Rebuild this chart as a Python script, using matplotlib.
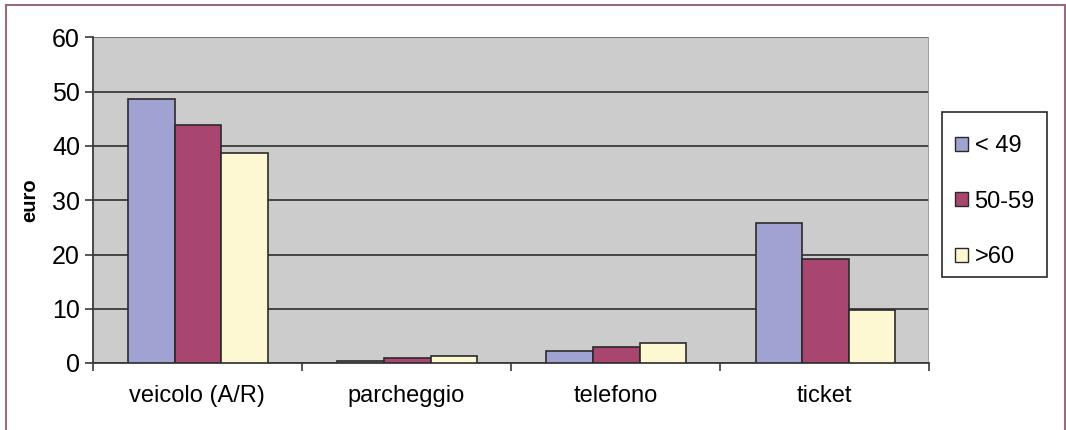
import matplotlib
matplotlib.use("Agg")
import matplotlib.pyplot as plt
import numpy as np
from matplotlib.lines import Line2D
from matplotlib.patches import Rectangle

plt.rcParams['font.family'] = ['Liberation Sans', 'DejaVu Sans']

categories = ["veicolo (A/R)", "parcheggio", "telefono", "ticket"]
series_names = ["< 49", "50-59", ">60"]
vals_lt49 = [48.7, 0.3, 2.3, 25.8]
vals_50_59 = [43.9, 1.0, 3.0, 19.1]
vals_gt60 = [38.8, 1.3, 3.7, 9.8]
colors = ["#a0a3d2", "#a8466f", "#fdf8d2"]
y_ticks = [0, 10, 20, 30, 40, 50, 60]

W, H = 1066, 430
fig = plt.figure(figsize=(W / 100, H / 100), dpi=100)
ax = fig.add_axes([92.5 / W, 1 - 363 / H, (929 - 92.5) / W, (363 - 37.5) / H])
ax.set_facecolor("#cccccc")

x = np.arange(len(categories))
bw = 0.223
for i, (vals, c, n) in enumerate(zip([vals_lt49, vals_50_59, vals_gt60], colors, series_names)):
    ax.bar(x + (i - 1) * bw + 0.005, vals, width=bw, color=c, edgecolor="#2a2a2a",
           linewidth=1.2, label=n, zorder=3)

ax.set_xlim(-0.5, len(categories) - 0.5)
ax.set_ylim(0, 60)
ax.set_yticks(y_ticks)
ax.yaxis.grid(True, color="#3a3a3a", linewidth=1.3, zorder=1)
ax.set_axisbelow(True)
ax.set_xticks(x)
ax.set_xticklabels(categories, fontsize=17)
ax.set_xticks(np.arange(len(categories) + 1) - 0.5, minor=True)
ax.tick_params(axis="x", which="major", length=0, pad=16)
ax.tick_params(axis="x", which="minor", length=6, width=1.2, color="#3a3a3a", direction="out")
ax.tick_params(axis="y", labelsize=18, length=6, width=1.2, color="#3a3a3a", pad=3)
for s in ["top", "right"]:
    ax.spines[s].set_visible(False)
ax.spines["left"].set_color("#3a3a3a")
ax.spines["bottom"].set_color("#3a3a3a")
ax.spines["left"].set_linewidth(1.3)
ax.spines["bottom"].set_linewidth(1.3)
ax.set_ylabel("euro", fontsize=14.5, fontweight="bold", labelpad=9)

# Gray top / right edges of plot area
ax.axhline(60, color="#777777", linewidth=1.5, zorder=2)
ax.axvline(len(categories) - 0.5, color="#999999", linewidth=1.2, zorder=2)

# Legend (frame drawn separately)
leg = fig.legend(loc="upper left", bbox_to_anchor=(942 / W, 1 - 122 / H),
                 fontsize=17, frameon=False,
                 handlelength=0.53, handleheight=0.53, handletextpad=0.3,
                 labelspacing=1.42, borderpad=0.55, borderaxespad=0)
for p in leg.get_patches():
    p.set_linewidth(1.0)
fig.add_artist(Rectangle((942 / W, 1 - 277 / H), (1047 - 942) / W, (277 - 112) / H,
                         transform=fig.transFigure, fill=False, edgecolor="#2a2a2a", lw=1.2))

# Outer frame
bc = "#9a6a7e"
fig.add_artist(Line2D([5.5 / W, 5.5 / W], [0, 1 - 5 / H], transform=fig.transFigure, color=bc, lw=1.5))
fig.add_artist(Line2D([5.5 / W, 1064.5 / W], [1 - 5 / H, 1 - 5 / H], transform=fig.transFigure, color=bc, lw=1.5))
fig.add_artist(Line2D([1064.5 / W, 1064.5 / W], [0, 1 - 5 / H], transform=fig.transFigure, color=bc, lw=1.5))

fig.savefig("out.png", dpi=100, facecolor="white")
